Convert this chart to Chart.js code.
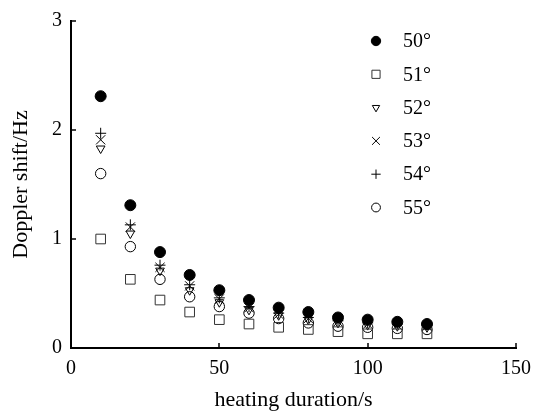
<!DOCTYPE html>
<html>
<head>
<meta charset="utf-8">
<script src="https://cdn.jsdelivr.net/npm/chart.js@4.4.1/dist/chart.umd.min.js"></script>
<style>
  html, body { margin: 0; padding: 0; background: #fff; }
  #wrap { width: 540px; height: 416px; }
</style>
</head>
<body>
<div id="wrap"><canvas id="c"></canvas></div>
<script>
// heating time (s)
const durations = [10, 20, 30, 40, 50, 60, 70, 80, 90, 100, 110, 120];
const labels = ['50°', '51°', '52°', '53°', '54°', '55°'];

// Doppler shift (Hz)
const shift50 = [2.31, 1.31, 0.88, 0.67, 0.53, 0.44, 0.37, 0.33, 0.28, 0.26, 0.24, 0.22];
const shift51 = [1.00, 0.63, 0.44, 0.33, 0.26, 0.22, 0.19, 0.17, 0.15, 0.13, 0.13, 0.13];
const shift52 = [1.83, 1.05, 0.71, 0.53, 0.42, 0.35, 0.30, 0.26, 0.23, 0.21, 0.20, 0.19];
const shift53 = [1.91, 1.11, 0.74, 0.57, 0.45, 0.37, 0.31, 0.27, 0.24, 0.22, 0.21, 0.20];
const shift54 = [1.97, 1.13, 0.76, 0.58, 0.46, 0.38, 0.32, 0.28, 0.25, 0.23, 0.22, 0.21];
const shift55 = [1.60, 0.93, 0.63, 0.47, 0.38, 0.32, 0.27, 0.23, 0.20, 0.19, 0.18, 0.17];

const xTicks = [0, 50, 100, 150];
const yTicks = [0, 1, 2, 3];

const FONT = 'Liberation Serif';

function pts(arr) {
  return arr.map((v, i) => ({ x: durations[i], y: v }));
}

const styles = [
  { pointStyle: 'circle', radius: 5.5, bg: '#000', border: '#000', rot: 0 },
  { pointStyle: 'rect', radius: 6.8, bg: 'rgba(0,0,0,0)', border: '#333', rot: 0 },
  { pointStyle: 'triangle', radius: 5, bg: 'rgba(0,0,0,0)', border: '#000', rot: 180 },
  { pointStyle: 'crossRot', radius: 6.5, bg: 'rgba(0,0,0,0)', border: '#000', rot: 0 },
  { pointStyle: 'cross', radius: 5.5, bg: 'rgba(0,0,0,0)', border: '#000', rot: 0 },
  { pointStyle: 'circle', radius: 5.2, bg: 'rgba(0,0,0,0)', border: '#000', rot: 0 }
];
const series = [shift50, shift51, shift52, shift53, shift54, shift55];

const datasets = series.map((s, i) => ({
  label: labels[i],
  data: pts(s),
  pointStyle: styles[i].pointStyle,
  pointRadius: styles[i].radius,
  pointRotation: styles[i].rot,
  pointBackgroundColor: styles[i].bg,
  pointBorderColor: styles[i].border,
  pointBorderWidth: 1,
  showLine: false
}));

// inward tick marks on both axes
const innerTicks = {
  id: 'innerTicks',
  afterDraw(chart) {
    const ctx = chart.ctx;
    const xs = chart.scales.x, ys = chart.scales.y;
    const a = chart.chartArea;
    ctx.save();
    ctx.strokeStyle = '#000';
    ctx.lineWidth = 1.5;
    xTicks.forEach(v => {
      const px = Math.round(xs.getPixelForValue(v));
      ctx.beginPath();
      ctx.moveTo(px, a.bottom);
      ctx.lineTo(px, a.bottom - 5);
      ctx.stroke();
    });
    yTicks.forEach(v => {
      const py = Math.round(ys.getPixelForValue(v));
      ctx.beginPath();
      ctx.moveTo(a.left, py);
      ctx.lineTo(a.left + 5, py);
      ctx.stroke();
    });
    ctx.restore();
  }
};

// legend drawn inside the plot, top right
const sideLegend = {
  id: 'sideLegend',
  afterDraw(chart) {
    const ctx = chart.ctx;
    const mx = 376, tx = 403, y0 = 41, dy = 33.3;
    ctx.save();
    chart.data.datasets.forEach((ds, i) => {
      const y = y0 + i * dy;
      ctx.fillStyle = ds.pointBackgroundColor;
      ctx.strokeStyle = ds.pointBorderColor;
      ctx.lineWidth = 1;
      Chart.helpers.drawPoint(ctx, {
        pointStyle: ds.pointStyle,
        radius: ds.pointRadius * 0.85,
        rotation: ds.pointRotation,
        borderWidth: 1
      }, mx, y);
      ctx.fillStyle = '#000';
      ctx.font = '20px "' + FONT + '"';
      ctx.textBaseline = 'middle';
      ctx.textAlign = 'left';
      ctx.fillText(ds.label, tx, y + 1);
    });
    ctx.restore();
  }
};

new Chart(document.getElementById('c'), {
  type: 'scatter',
  data: { datasets },
  plugins: [innerTicks, sideLegend],
  options: {
    responsive: true,
    maintainAspectRatio: false,
    animation: false,
    layout: { padding: { top: 13, right: 24, left: 0, bottom: 0 } },
    plugins: {
      legend: { display: false },
      tooltip: { enabled: false }
    },
    scales: {
      x: {
        type: 'linear',
        min: 0,
        max: 150,
        afterBuildTicks: s => { s.ticks = xTicks.map(v => ({ value: v })); },
        afterFit: s => { s.height = 68; },
        grid: { display: false, drawTicks: false },
        border: { display: true, color: '#000', width: 2 },
        ticks: { color: '#000', padding: 9, font: { family: FONT, size: 20 } },
        title: {
          display: true,
          text: 'heating duration/s',
          color: '#000',
          font: { family: FONT, size: 22 },
          padding: { top: 0, bottom: 3 }
        }
      },
      y: {
        type: 'linear',
        min: 0,
        max: 3,
        afterBuildTicks: s => { s.ticks = yTicks.map(v => ({ value: v })); },
        afterFit: s => { s.width = 71; },
        grid: { display: false, drawTicks: false },
        border: { display: true, color: '#000', width: 2 },
        ticks: { color: '#000', padding: 9, font: { family: FONT, size: 20 } },
        title: {
          display: true,
          text: 'Doppler shift/Hz',
          color: '#000',
          font: { family: FONT, size: 22 },
          padding: { top: 8, bottom: 0 }
        }
      }
    }
  }
});
</script>
</body>
</html>
